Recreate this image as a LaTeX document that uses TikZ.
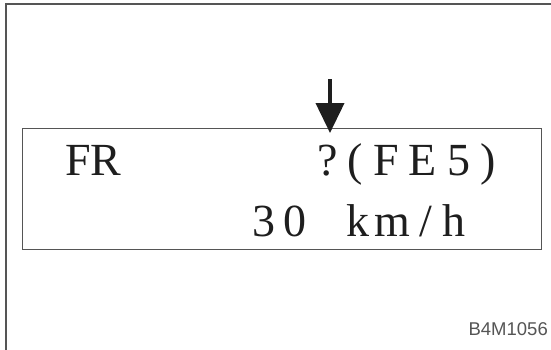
\documentclass[tikz,border=0pt]{standalone}
\usepackage{fontspec}
\setmainfont{Liberation Serif}
\newfontfamily\dispfont[LetterSpace=22]{Liberation Serif}
\newfontfamily\labelfont{Liberation Sans}
\definecolor{framegray}{RGB}{85, 85, 85}
\definecolor{inkblack}{RGB}{30, 30, 30}
\usepackage{tikz}
\usetikzlibrary{
  arrows.meta,
  positioning
}

\begin{document}
\begin{tikzpicture}[x=1pt, y=-1pt,
  disptext/.style={inner sep=0pt, anchor=base west, text=inkblack,
                   font=\fontsize{46}{50}\selectfont}]
\useasboundingbox (0,0) rectangle (551,349);

% outer frame, open to the right and below
\draw[framegray, line width=1.8pt] (553,4) -- (6,4) -- (6,351);

% display panel
\node[draw=framegray, line width=1.4pt, minimum width=519pt, minimum height=121pt,
      inner sep=0pt, anchor=north west] (panel) at (22,128) {};

\node[disptext] (mode) at (65,175) {FR};
\node[disptext, font=\fontsize{46}{50}\dispfont] (code) at (317,175) {?(FE5)};
\node[disptext] (speed) at (252,236)
  {3\kern8pt0\kern40pt k\kern5pt m\kern10pt/\kern10pt h};

% pointer to the code
\coordinate (ptrtop) at (330,79);
\coordinate (ptrtip) at (330,133);
\draw[inkblack, line width=4pt, -{Triangle[width=28pt, length=30pt]}] (ptrtop) -- (ptrtip);

\node[inner sep=0pt, anchor=base east, text=framegray,
      font=\labelfont\fontsize{18.5}{21}\selectfont] (figno) at (548,335) {B4M1056};
\end{tikzpicture}
\end{document}
